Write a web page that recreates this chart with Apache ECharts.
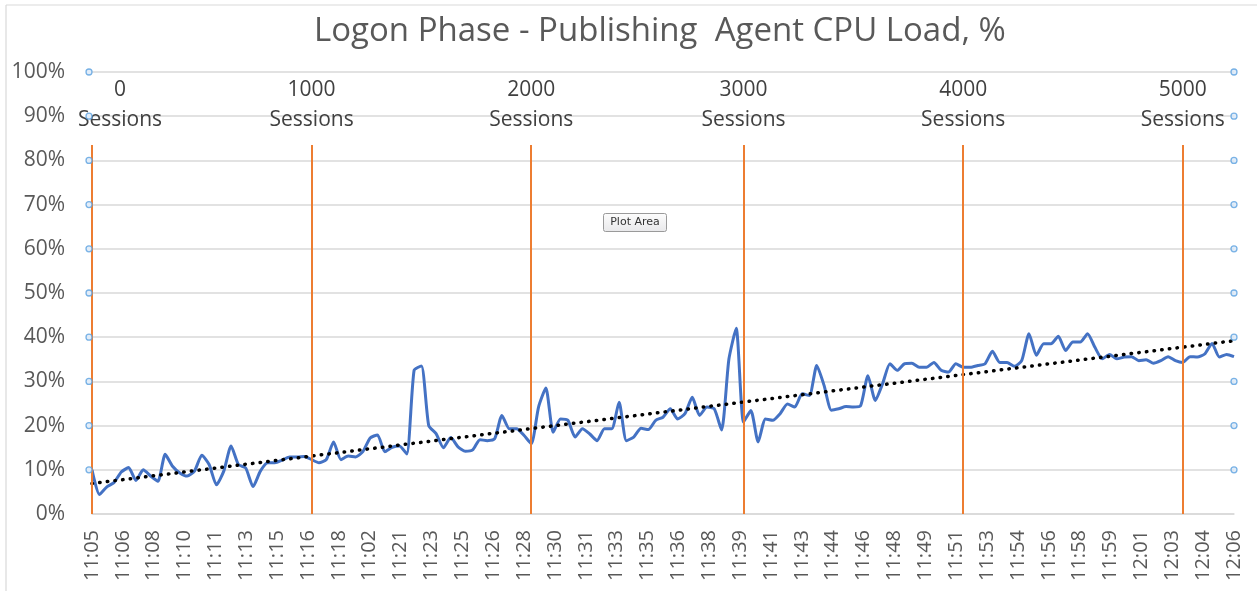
<!DOCTYPE html>
<html>
<head>
<meta charset="utf-8">
<script src="https://cdn.jsdelivr.net/npm/echarts@6/dist/echarts.min.js"></script>
<style>html,body{margin:0;padding:0;background:#fff;}#chart{width:1257px;height:591px;}</style>
</head>
<body>
<div id="chart"></div>
<script>
// Tick labels shown on the x axis
const tickLabels = ['11:05','11:06','11:08','11:10','11:11','11:13','11:15','11:16','11:18','11:02','11:21','11:23','11:25','11:26','11:28','11:30','11:31','11:33','11:35','11:36','11:38','11:39','11:41','11:43','11:44','11:46','11:48','11:49','11:51','11:53','11:54','11:56','11:58','11:59','12:01','12:03','12:04','12:06'];
// CPU load, % (one value per sample)
const cpuLoad = [
10.0,4.4,6.1,7.1,9.5,10.5,7.6,10.0,8.6,7.4,
13.5,10.8,9.3,8.6,9.7,13.3,11.2,6.6,9.7,15.4,
11.2,10.4,6.2,9.7,11.6,11.6,12.2,12.9,12.9,13.0,
12.3,11.6,12.3,16.3,12.3,13.1,12.9,14.1,17.2,17.9,
14.1,15.1,15.4,13.6,32.5,33.5,20.0,18.2,15.0,17.3,
15.2,14.2,14.5,16.8,16.6,17.0,22.3,19.3,19.3,17.8,
15.9,24.2,28.5,18.5,21.5,21.2,17.4,19.3,18.1,16.6,
19.3,19.3,25.3,16.6,17.4,19.4,19.1,21.2,21.9,23.8,
21.5,22.7,26.4,22.3,24.2,23.8,19.0,35.0,42.0,20.8,
23.4,16.3,21.5,21.2,22.7,24.9,24.2,27.2,26.8,33.6,
29.1,23.5,23.8,24.3,24.2,24.5,31.3,25.7,29.5,34.0,
32.5,34.0,34.1,33.2,33.2,34.3,32.5,32.1,34.0,33.2,
33.2,33.6,34.0,36.8,34.3,34.3,33.4,34.7,40.8,35.9,
38.5,38.5,40.2,37.0,38.9,38.9,40.8,37.7,35.1,36.1,
35.1,35.5,35.6,34.7,34.9,34.1,34.7,35.6,34.7,34.3,
35.6,35.5,36.2,38.6,35.5,36.1,35.6
];
// Trend line end points [sample index, %]
const trendPoints = [[0, 6.9], [156, 39.2]];
// Session markers: sample index and label
const sessionIdx = [0, 30, 60, 89, 119, 149];
const sessionLabels = ['0','1000','2000','3000','4000','5000'];
const sessionTop = 83.5;
// Y axis ticks
const yTicks = [10,20,30,40,50,60,70,80,90,100];

const sampleCats = cpuLoad.map((v, i) => 's' + i);

const txt = '#595959';
const font = 'Open Sans';
const chart = echarts.init(document.getElementById('chart'));
chart.setOption({
  animation: false,
  title: {
    text: 'Logon Phase - Publishing  Agent CPU Load, %',
    left: 309, top: 10,
    textStyle: { fontFamily: font, fontSize: 33, fontWeight: 'normal', color: txt }
  },
  grid: { left: 92, right: 23, top: 72, bottom: 77, containLabel: false },
  xAxis: [
    {
      type: 'category', data: sampleCats, boundaryGap: false,
      axisLine: { show: false }, axisTick: { show: false }, axisLabel: { show: false }, splitLine: { show: false }
    },
    {
      type: 'category', data: tickLabels, boundaryGap: false, position: 'bottom',
      axisLine: { onZero: false, lineStyle: { color: '#d9d9d9', width: 1.5 } },
      axisTick: { show: false },
      axisLabel: { interval: 0, rotate: 90, margin: 16, color: txt, fontFamily: font, fontSize: 20 },
      splitLine: { show: false }
    }
  ],
  yAxis: {
    type: 'value', min: 0, max: 100, interval: 10,
    axisLine: { show: false }, axisTick: { show: false },
    axisLabel: { formatter: '{value}%', color: txt, fontFamily: font, fontSize: 21, margin: 27 },
    splitLine: { lineStyle: { color: '#d9d9d9', width: 1.5 } }
  },
  series: [
    {
      type: 'line', xAxisIndex: 0, data: cpuLoad, symbol: 'none', smooth: 0.2,
      lineStyle: { color: '#4472C4', width: 3 }, z: 3,
      markLine: {
        silent: true, symbol: ['none','none'],
        lineStyle: { color: '#ED7D31', width: 2, type: 'solid' },
        label: { show: true, position: 'end', distance: 10, color: '#404040', fontFamily: font, fontSize: 21, lineHeight: 30,
          formatter: p => p.name + '\nSessions' },
        data: sessionIdx.map((idx, k) => [
          { coord: [idx, 0], name: sessionLabels[k], label: k === 0 ? { offset: [28, 0] } : {} },
          { coord: [idx, sessionTop] }
        ])
      }
    },
    {
      type: 'line', xAxisIndex: 0, data: trendPoints, symbol: 'none', z: 4,
      lineStyle: { color: '#000', width: 3.5, type: [0.5, 7.2], cap: 'round' }
    },
    {
      type: 'scatter', xAxisIndex: 0, symbol: 'circle', symbolSize: 6, symbolOffset: [-3, 0], z: 5,
      itemStyle: { color: '#dbe9f8', borderColor: '#5aa0e0', borderWidth: 1.3 },
      data: yTicks.map(v => [0, v])
    },
    {
      type: 'scatter', xAxisIndex: 0, symbol: 'circle', symbolSize: 6, z: 5,
      itemStyle: { color: '#dbe9f8', borderColor: '#5aa0e0', borderWidth: 1.3 },
      data: yTicks.map(v => [cpuLoad.length - 1, v])
    }
  ],
  graphic: [
    { type: 'line', shape: { x1: 6, y1: 5, x2: 6, y2: 591 }, style: { stroke: '#d9d9d9', lineWidth: 1.2 } },
    { type: 'line', shape: { x1: 6, y1: 5, x2: 1257, y2: 5 }, style: { stroke: '#d9d9d9', lineWidth: 1.2 } },
    { type: 'group', left: 603, top: 213, children: [
      { type: 'rect', shape: { x: 0, y: 0, width: 63, height: 18, r: 2 },
        style: { fill: new echarts.graphic.LinearGradient(0,0,0,1,[{offset:0,color:'#fdfdfd'},{offset:1,color:'#e8e8ea'}]), stroke: '#9a9a9a', lineWidth: 1 } },
      { type: 'text', x: 31.5, y: 9, style: { text: 'Plot Area', fill: '#333', font: '11px "DejaVu Sans"', align: 'center', verticalAlign: 'middle' } }
    ]}
  ]
});
</script>
</body>
</html>
